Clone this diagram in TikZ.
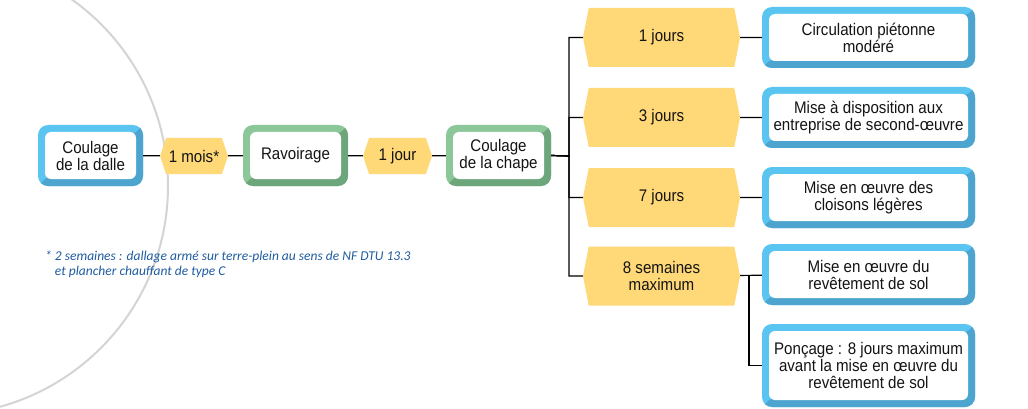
\documentclass[tikz,border=0pt]{standalone}
\usepackage{fontspec}
\setmainfont{Liberation Sans}[FakeStretch=0.9]
\newfontfamily\notefont{Carlito}
\usetikzlibrary{shapes.symbols}
\definecolor{bleuclair}{HTML}{5BC5F1}
\definecolor{bleufonce}{HTML}{4DA5CF}
\definecolor{vertclair}{HTML}{8CC79A}
\definecolor{vertfonce}{HTML}{6DA67B}
\definecolor{jaune}{HTML}{FFD878}
\definecolor{gris}{HTML}{D4D4D4}
\definecolor{texte}{HTML}{141414}
\definecolor{note}{HTML}{1F5CA0}
\tikzset{
  cadre/.style 2 args={rounded corners=10pt, fill=#1, minimum width=105pt, minimum height=61pt,
    inner sep=0pt, align=center, text=texte, font=\fontsize{16.8}{17}\selectfont,
    path picture={
      \fill[#2, sharp corners] (path picture bounding box.south west) -- ++(7pt,7pt)
        -- ([shift={(-7pt,-7pt)}]path picture bounding box.north east)
        -- (path picture bounding box.north east) -- (path picture bounding box.south east) -- cycle;
      \fill[white, rounded corners=6pt] ([shift={(7pt,7pt)}]path picture bounding box.south west)
        rectangle ([shift={(-7pt,-7pt)}]path picture bounding box.north east);
    }},
  bleu/.style={cadre={bleuclair}{bleufonce}},
  vert/.style={cadre={vertclair}{vertfonce}},
  delai/.style={signal, signal to=west and east, signal pointer angle=143, fill=jaune,
    inner sep=0pt, minimum width=68pt, minimum height=36pt, align=center, text=texte,
    font=\fontsize{16.8}{17}\selectfont},
  duree/.style={delai, signal pointer angle=158, minimum width=157pt, minimum height=59pt},
  lien/.style={draw=black, line width=1.2pt}
}
\begin{document}
\begin{tikzpicture}[x=1pt, y=-1pt]
  \useasboundingbox (0,0) rectangle (1028,409);
  % arc de fond
  \draw[gris, line width=2pt] (-61,186) circle[radius=229pt];

  % chaine principale
  \node[bleu] (dalle) at (90.5,155.5) {Coulage\\de la dalle};
  \node[delai] (mois) at (194,156) {1 mois*};
  \node[vert] (ravoirage) at (295.5,155.5) {Ravoirage};
  \node[delai, minimum width=69pt] (jour) at (397.5,156) {1 jour};
  \node[vert] (chape) at (498.5,155.5) {Coulage\\de la chape};

  % delais apres chape
  \node[duree] (j1) at (661.5,37.5) {1 jours};
  \node[duree] (j3) at (661.5,117.5) {3 jours};
  \node[duree] (j7) at (661.5,197.5) {7 jours};
  \node[duree] (s8) at (661.5,276) {8 semaines\\maximum};

  \node[bleu, minimum width=213pt] (pieton) at (868.5,37.5) {Circulation piétonne\\modéré};
  \node[bleu, minimum width=213pt] (second) at (868.5,117.5) {Mise à disposition aux\\entreprise de second-œuvre};
  \node[bleu, minimum width=213pt] (cloisons) at (868.5,197.5) {Mise en œuvre des\\cloisons légères};
  \node[bleu, minimum width=213pt] (revetement) at (868.5,274.5) {Mise en œuvre du\\revêtement de sol};
  \node[bleu, minimum width=213pt, minimum height=83pt] (poncage) at (868.5,365.5)
    {Ponçage : 8 jours maximum\\avant la mise en œuvre du\\revêtement de sol};

  % liaisons
  \draw[lien] (dalle) -- (mois) -- (ravoirage) -- (jour) -- (chape);
  \coordinate (bus) at (569,156);
  \coordinate (fourche) at (749,276);
  \foreach \n in {j1,j3,j7,s8}
    \draw[lien] (chape.east) -- (bus) |- (\n.west);
  \draw[lien] (j1) -- (pieton);
  \draw[lien] (j3) -- (second);
  \draw[lien] (j7) -- (cloisons);
  \draw[lien] (s8) -- (revetement);
  \draw[lien] (fourche) |- (poncage.west);

  % renvoi
  \node[anchor=north west, inner sep=0pt, align=left, text=note,
    font=\notefont\itshape\fontsize{13.5}{15}\selectfont] (renvoi) at (45,251)
    {* 2 semaines : dallage armé sur terre-plein au sens de NF DTU 13.3\\
     \phantom{*\ }et plancher chauffant de type C};
\end{tikzpicture}
\end{document}
